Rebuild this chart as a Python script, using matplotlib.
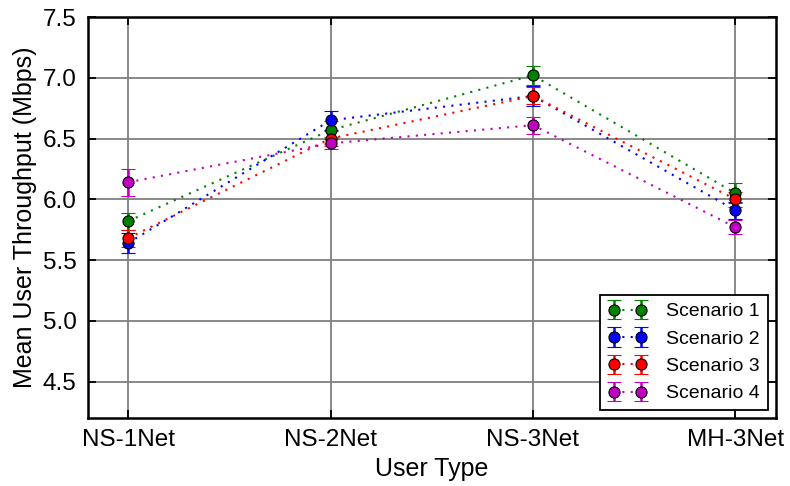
import numpy as np
import matplotlib
matplotlib.use("Agg")
import matplotlib.pyplot as plt

plt.rcParams["font.family"] = ["Liberation Sans", "DejaVu Sans"]

user_types = ["NS-1Net", "NS-2Net", "NS-3Net", "MH-3Net"]
scenarios = ["Scenario 1", "Scenario 2", "Scenario 3", "Scenario 4"]
colors = ["g", "b", "r", "m"]

means = {
    "Scenario 1": [5.82, 6.57, 7.02, 6.05],
    "Scenario 2": [5.64, 6.65, 6.85, 5.91],
    "Scenario 3": [5.68, 6.50, 6.85, 6.00],
    "Scenario 4": [6.14, 6.46, 6.61, 5.77],
}
errors = {
    "Scenario 1": [0.07, 0.07, 0.08, 0.08],
    "Scenario 2": [0.08, 0.08, 0.08, 0.07],
    "Scenario 3": [0.07, 0.06, 0.07, 0.06],
    "Scenario 4": [0.11, 0.05, 0.07, 0.06],
}

fig, ax = plt.subplots(figsize=(7.9, 4.86), dpi=100)
fig.subplots_adjust(left=0.111, right=0.982, top=0.965, bottom=0.140)
x = np.arange(len(user_types))
for name, c in zip(scenarios, colors):
    ax.errorbar(x, means[name], yerr=errors[name], fmt="o", linestyle=(0, (1, 3)),
                linewidth=1.5, color=c, ecolor=c, elinewidth=1.8, capsize=5,
                capthick=1.8, markersize=8, markeredgecolor="k",
                markeredgewidth=0.8, label=name)

ax.set_xlim(-0.2, 3.2)
ax.set_ylim(4.2, 7.5)
ax.set_xticks(x)
ax.set_xticklabels(user_types)
ax.set_yticks([4.5, 5.0, 5.5, 6.0, 6.5, 7.0, 7.5])
ax.grid(True, color="gray", linestyle="-", linewidth=1.3)
ax.set_axisbelow(True)
ax.tick_params(direction="in", top=True, right=True, labelsize=17.5,
               length=6, width=1.3, pad=8)
ax.set_xlabel("User Type", fontsize=18)
ax.set_ylabel("Mean User Throughput (Mbps)", fontsize=18)
for s in ax.spines.values():
    s.set_linewidth(1.8)
leg = ax.legend(loc="lower right", numpoints=2, fontsize=14, fancybox=False,
                framealpha=1, edgecolor="k", borderaxespad=0.4,
                handlelength=2.0, labelspacing=0.5, handletextpad=1.0)
leg.get_frame().set_linewidth(1.3)

plt.savefig("out.png")
